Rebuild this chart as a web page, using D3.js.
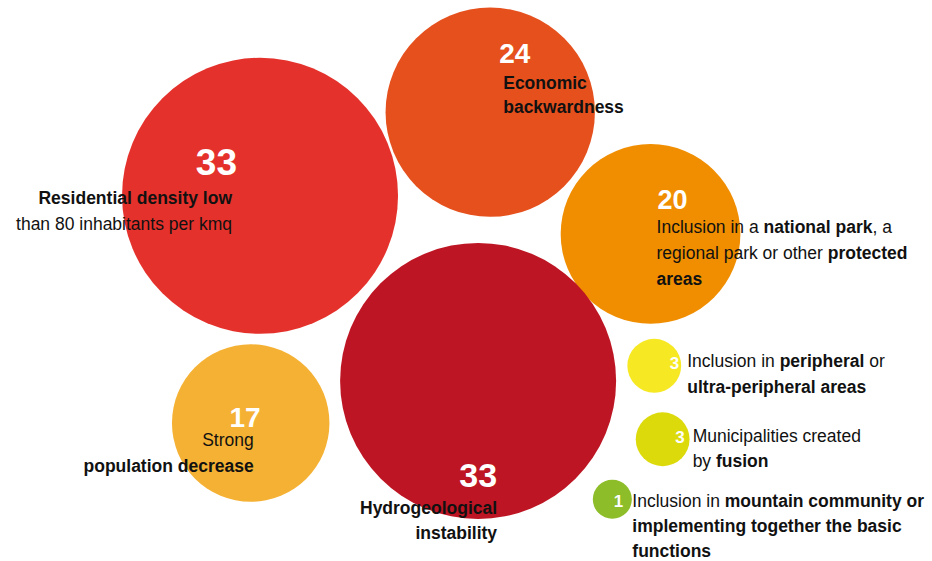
<!DOCTYPE html>
<html>
<head>
<meta charset="utf-8">
<script src="https://cdn.jsdelivr.net/npm/d3@7"></script>
<style>
  html, body { margin: 0; padding: 0; background: #ffffff; }
  svg { display: block; }
  text { font-family: "Liberation Sans", Arial, Helvetica, sans-serif; }
</style>
</head>
<body>
<svg id="chart"></svg>
<script>
// ---------- data ----------
const categories = [
  "Residential density low than 80 inhabitants per kmq",
  "Economic backwardness",
  "Inclusion in a national park, a regional park or other protected areas",
  "Hydrogeological instability",
  "Strong population decrease",
  "Inclusion in peripheral or ultra-peripheral areas",
  "Municipalities created by fusion",
  "Inclusion in mountain community or implementing together the basic functions"
];
const values = [33, 24, 20, 33, 17, 3, 3, 1];
// label lines (**bold** marks emphasised words)
const labelLines = [
  ["**Residential density low**", "than 80 inhabitants per kmq"],
  ["**Economic**", "**backwardness**"],
  ["Inclusion in a **national park**, a", "regional park or other **protected**", "**areas**"],
  ["**Hydrogeological**", "**instability**"],
  ["Strong", "**population decrease**"],
  ["Inclusion in **peripheral** or", "**ultra-peripheral areas**"],
  ["Municipalities created", "by **fusion**"],
  ["Inclusion in **mountain community or**", "**implementing together the basic**", "**functions**"]
];

// ---------- layout & style (not data) ----------
const W = 932, H = 561;
const colors = ["#E5312B", "#E5501D", "#F08E00", "#BD1523", "#F5B133", "#F6E823", "#DCDA0B", "#8DBD28"];
// bubble centres in percent of the canvas
const posX = [27.9, 52.6, 69.8, 51.3, 26.9, 70.2, 71.1, 65.7];
const posY = [34.9, 20.0, 41.7, 67.9, 75.4, 65.2, 78.3, 89.0];
// number / label placement relative to bubble centre
const numStyle = [
  {anchor: "end",   dx: -23, dy: -21, size: 37},
  {anchor: "start", dx: 9,   dy: -49, size: 28},
  {anchor: "start", dx: 7,   dy: -25, size: 27},
  {anchor: "end",   dx: 19,  dy: 106, size: 34},
  {anchor: "end",   dx: 10,  dy: 4,   size: 28},
  {anchor: "end",   dx: 25,  dy: 3,   size: 17},
  {anchor: "end",   dx: 22,  dy: 4,   size: 17},
  {anchor: "end",   dx: 11,  dy: 8,   size: 17}
];
const labStyle = [
  {anchor: "end",   dx: -28, dy: 8,   gap: 26},
  {anchor: "start", dx: 13,  dy: -23, gap: 24},
  {anchor: "start", dx: 6,   dy: -1,  gap: 26},
  {anchor: "end",   dx: 19,  dy: 133, gap: 25},
  {anchor: "end",   dx: 3,   dy: 23,  gap: 26},
  {anchor: "start", dx: 33,  dy: 1,   gap: 26},
  {anchor: "start", dx: 30,  dy: 3,   gap: 25},
  {anchor: "start", dx: 20,  dy: 8,   gap: 25}
];

const x = d3.scaleLinear().domain([0, 100]).range([0, W]);
const y = d3.scaleLinear().domain([0, 100]).range([0, H]);
const r = d3.scaleLinear().domain([1, 33]).range([19.5, 138]);

const data = values.map((v, i) => ({
  name: categories[i], value: v, lines: labelLines[i],
  cx: x(posX[i]), cy: y(posY[i]), color: colors[i],
  num: numStyle[i], lab: labStyle[i]
}));

const svg = d3.select("#chart").attr("width", W).attr("height", H);

svg.append("g").selectAll("circle")
  .data(data).join("circle")
  .attr("cx", d => d.cx).attr("cy", d => d.cy)
  .attr("r", d => r(d.value))
  .attr("fill", d => d.color);

// numbers
svg.append("g").selectAll("text")
  .data(data).join("text")
  .attr("x", d => d.cx + d.num.dx)
  .attr("y", d => d.cy + d.num.dy)
  .attr("text-anchor", d => d.num.anchor)
  .attr("font-size", d => d.num.size)
  .attr("font-weight", "bold")
  .attr("fill", "#ffffff")
  .text(d => d.value);

// labels
const labels = svg.append("g").selectAll("g")
  .data(data).join("g");

labels.each(function(d) {
  const g = d3.select(this);
  d.lines.forEach((line, li) => {
    const t = g.append("text")
      .attr("x", d.cx + d.lab.dx)
      .attr("y", d.cy + d.lab.dy + li * d.lab.gap)
      .attr("text-anchor", d.lab.anchor)
      .attr("font-size", 17.5)
      .attr("fill", "#111111");
    line.split("**").forEach((seg, si) => {
      if (!seg) return;
      t.append("tspan")
        .attr("font-weight", si % 2 === 1 ? "bold" : "normal")
        .text(seg);
    });
  });
});
</script>
</body>
</html>
